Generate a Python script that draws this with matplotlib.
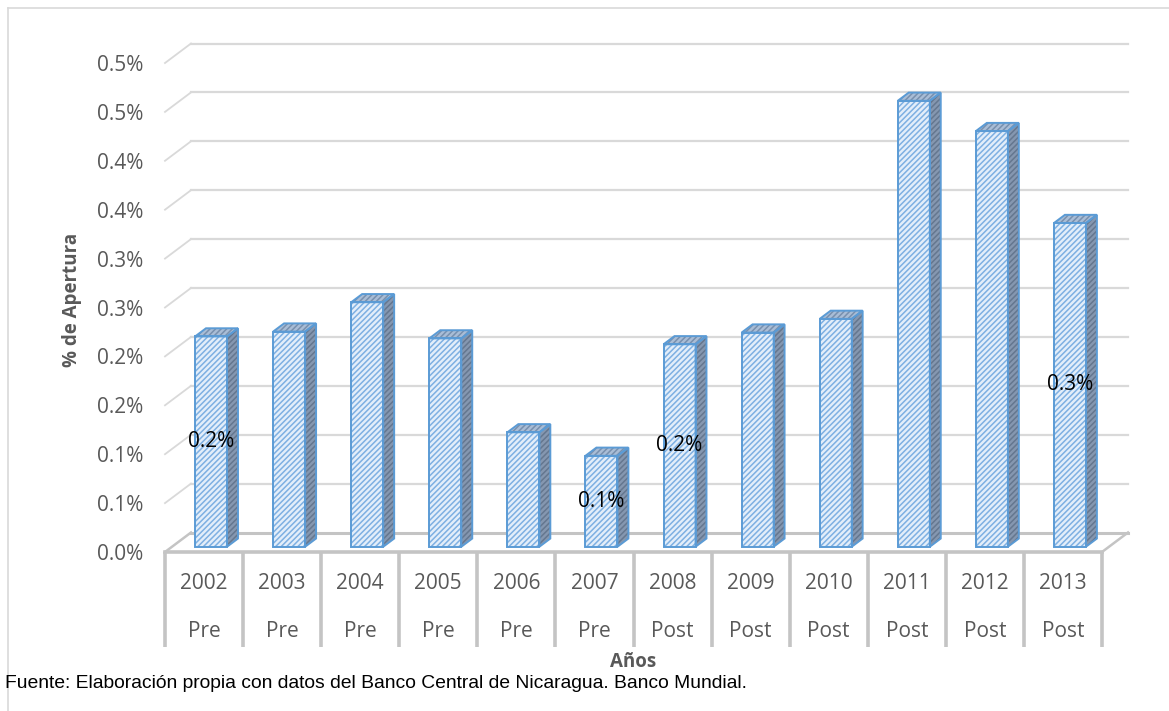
import numpy as np
import matplotlib.pyplot as plt
from matplotlib.patches import Polygon

# apertura (%) por año
years = ['2002', '2003', '2004', '2005', '2006', '2007',
         '2008', '2009', '2010', '2011', '2012', '2013']
periods = ['Pre', 'Pre', 'Pre', 'Pre', 'Pre', 'Pre',
           'Post', 'Post', 'Post', 'Post', 'Post', 'Post']
apertura = [0.215, 0.220, 0.250, 0.213, 0.117, 0.093,
            0.207, 0.219, 0.233, 0.456, 0.425, 0.331]
labeled = ['2002', '2007', '2008', '2013']

y_ticks = [0.0, 0.05, 0.10, 0.15, 0.20, 0.25, 0.30, 0.35, 0.40, 0.45, 0.50]
y_tick_labels = ['0.0%', '0.1%', '0.1%', '0.2%', '0.2%', '0.3%',
                 '0.3%', '0.4%', '0.4%', '0.5%', '0.5%']

plt.rcParams['font.family'] = ['Open Sans', 'DejaVu Sans']
plt.rcParams['hatch.linewidth'] = 1.1

W, H = 1169, 711
fig = plt.figure(figsize=(W / 100, H / 100), dpi=100)
ax = fig.add_axes([165 / W, 159 / H, 937 / W, 489 / H])
n = len(years)
ax.set_xlim(-0.5, n - 0.5)
ax.set_ylim(0, 0.5)
for s in ax.spines.values():
    s.set_visible(False)

# oblique depth of the 3d box (data units)
DX = 26 / (937 / n)
DY = 19.5 / (489 / 0.5)

grid_c = '#d9d9d9'
floor_c = '#c4c4c4'
fs = 15

# back wall + left wall gridlines
for t in y_ticks[1:]:
    ax.plot([-0.5 + DX, n - 0.5 + DX], [t + DY, t + DY], color=grid_c, lw=1.6,
            clip_on=False, zorder=1)
    ax.plot([-0.5, -0.5 + DX], [t, t + DY], color=grid_c, lw=1.3,
            clip_on=False, zorder=1)

# floor
ax.plot([-0.5 + DX, n - 0.5 + DX], [DY, DY], color=floor_c, lw=2.2, clip_on=False, zorder=1)
ax.plot([-0.5, -0.5 + DX], [0, DY], color=floor_c, lw=1.8, clip_on=False, zorder=1)
ax.plot([n - 0.5, n - 0.5 + DX], [0, DY], color=floor_c, lw=1.8, clip_on=False, zorder=1)
ax.plot([-0.5, n - 0.5], [0, 0], color=floor_c, lw=2.6, clip_on=False, zorder=1)

# category table below the floor
ax.vlines(np.arange(n + 1) - 0.5, -0.097, 0, color=floor_c, lw=2.6, clip_on=False, zorder=1)
for i in range(n):
    ax.text(i, -0.0327, years[i], ha='center', va='center', fontsize=fs, color='#595959')
    ax.text(i, -0.0808, periods[i], ha='center', va='center', fontsize=fs, color='#595959')

# 3d bars
z0, z1 = 0.27, 0.69
bw = 0.41
edge = '#5b9bd5'


def face(pts, fc, hc):
    ax.add_patch(Polygon(pts, closed=True, facecolor=fc, edgecolor=hc, hatch='//////',
                         lw=0, clip_on=False, zorder=3))
    ax.add_patch(Polygon(pts, closed=True, fill=False, edgecolor=edge, lw=1.4,
                         clip_on=False, zorder=4))


for i, v in enumerate(apertura):
    xl = i - bw / 2 + z0 * DX
    xr = i + bw / 2 + z0 * DX
    b0 = z0 * DY
    ddx = (z1 - z0) * DX
    ddy = (z1 - z0) * DY
    face([(xr, b0), (xr + ddx, b0 + ddy), (xr + ddx, v + b0 + ddy), (xr, v + b0)],
         '#8597b0', '#65778f')
    face([(xl, v + b0), (xr, v + b0), (xr + ddx, v + b0 + ddy), (xl + ddx, v + b0 + ddy)],
         '#a9bdd6', '#7890ae')
    face([(xl, b0), (xr, b0), (xr, v + b0), (xl, v + b0)], '#e3eefa', '#7eb0e2')
    if years[i] in labeled:
        ax.text(i + z0 * DX, b0 + v / 2, f'{v:.1f}%', ha='center', va='center',
                fontsize=fs, color='black', zorder=6)

ax.set_xticks([])
ax.set_yticks(y_ticks)
ax.set_yticklabels(y_tick_labels)
ax.tick_params(axis='y', length=0, pad=15.5, labelsize=fs, labelcolor='#595959')

fig.text(72 / W, 1 - 300 / H, '% de Apertura', rotation=90, ha='center', va='center',
         fontsize=13.5, fontweight='bold', color='#595959')
fig.text(633 / W, 1 - 662 / H, 'Años', ha='center', va='center',
         fontsize=13.5, fontweight='bold', color='#595959')
fig.text(5 / W, 1 - 683 / H,
         'Fuente: Elaboración propia con datos del Banco Central de Nicaragua. Banco Mundial.',
         ha='left', va='center', fontsize=13.9, color='black', family='Liberation Sans')

# chart frame (cut off at the right and bottom)
fig.add_artist(plt.Line2D([8 / W, 1], [1 - 8 / H, 1 - 8 / H], color='#d9d9d9', lw=1.2))
fig.add_artist(plt.Line2D([8 / W, 8 / W], [0, 1 - 8 / H], color='#d9d9d9', lw=1.2))

fig.savefig('out.png', dpi=100, facecolor='white')
